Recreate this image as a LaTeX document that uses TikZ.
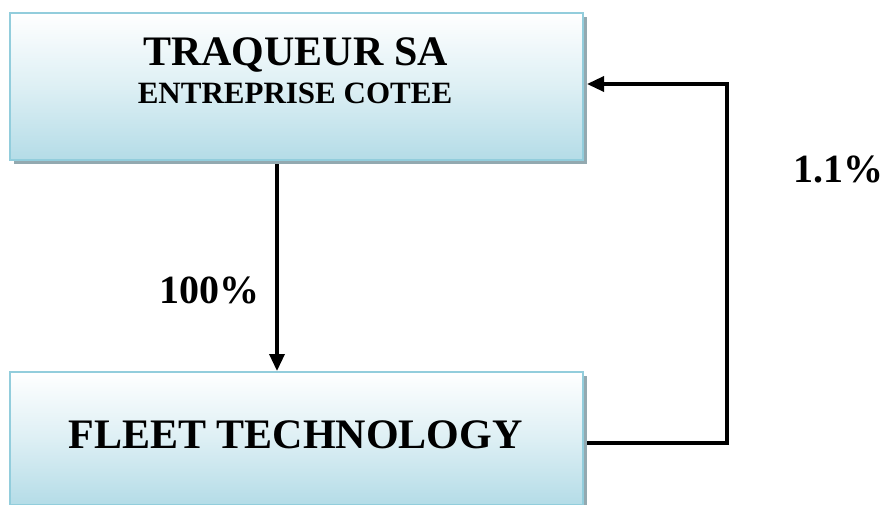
\documentclass[tikz,border=0pt]{standalone}
\usepackage{fontspec}
\setmainfont{Liberation Serif}
\usetikzlibrary{shadows,arrows.meta}
\definecolor{boxblue}{RGB}{180,220,231}
\definecolor{boxedge}{RGB}{146,205,220}
\definecolor{shadowgrey}{RGB}{147,169,176}
\tikzset{
  entity/.style={draw=boxedge, line width=2pt, top color=white, bottom color=boxblue,
    middle color=boxblue!45, inner sep=0pt,
    drop shadow={shadow xshift=3.5pt, shadow yshift=-3.5pt, fill=shadowgrey, opacity=1}},
  link/.style={draw=black, line width=3.4pt},
  tip/.style={-{Triangle[length=17pt,width=15pt]}},
  lbl/.style={font=\bfseries, anchor=base, inner sep=0pt}
}
\begin{document}
\begin{tikzpicture}[x=1pt,y=-1pt]
\useasboundingbox (0,0) rectangle (889,504);
\node[entity, minimum width=573pt, minimum height=147pt] (traq) at (296.5,86.5) {};
\node[entity, minimum width=573pt, minimum height=133pt] (fleet) at (296.5,438.5) {};
\node[lbl, font=\fontsize{42}{46}\selectfont\bfseries] (t1) at (295.5,65) {TRAQUEUR SA};
\node[lbl, font=\fontsize{31}{34}\selectfont\bfseries] (t2) at (295,103) {ENTREPRISE COTEE};
\node[lbl, font=\fontsize{42}{46}\selectfont\bfseries] (t3) at (295.5,448) {FLEET TECHNOLOGY};
\node[lbl, font=\fontsize{40}{44}\selectfont\bfseries] (p100) at (209,303) {100\%};
\node[lbl, font=\fontsize{40}{44}\selectfont\bfseries] (p11) at (838,182) {1.1\%};
\coordinate (vx) at (277,0);
\coordinate (c1) at (727,443);
\coordinate (c2) at (727,84);
\draw[link, tip] ([yshift=-3pt]traq.south -| vx) -- (fleet.north -| vx);
\draw[link, tip, shorten <=3pt, shorten >=3pt] (fleet.east |- c1) -- (c1) -- (c2) -- (traq.east |- c2);
\end{tikzpicture}
\end{document}
